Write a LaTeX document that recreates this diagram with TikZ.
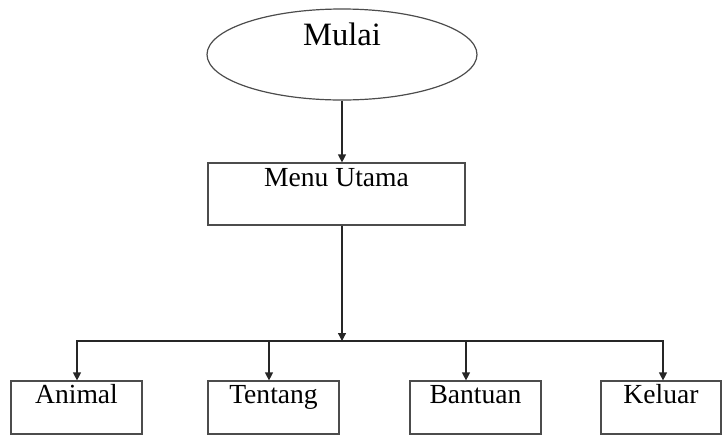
\documentclass[tikz,border=0pt]{standalone}
\usepackage{fontspec}
\setmainfont{Liberation Serif}
\usetikzlibrary{arrows.meta, calc, shapes.geometric}

\begin{document}
\begin{tikzpicture}[x=0.5pt, y=-0.5pt, >={Triangle[length=4pt,width=4pt]}]
    \tikzstyle{conn}=[draw=black!85, line width=0.6pt]
    \tikzstyle{start}=[ellipse, draw=black!70, line width=0.6pt, inner sep=0pt,
        minimum width=135pt, minimum height=45.5pt, text height=11pt, text depth=20pt,
        font=\fontsize{16.3}{18}\selectfont]
    \tikzstyle{menubox}=[rectangle, draw=black!70, line width=0.6pt, inner sep=0pt,
        font=\fontsize{13.8}{16}\selectfont]

    \useasboundingbox (0,0) rectangle (723,435);

    % Draw the start and the main menu
    \node[start] (mulai) at (342,54.5) {Mulai};
    \node[menubox, minimum width=128.5pt, minimum height=31pt,
          text height=11.5pt, text depth=19.5pt] (menu) at (336.5,194) {Menu Utama};
    \coordinate (bus) at (342,341);

    % Draw the menu items
    \foreach \name / \x / \w / \lbl in {animal/76.5/65.5/Animal, tentang/273.5/65.5/Tentang,
                                       bantuan/475.5/65.5/Bantuan, keluar/661/60/Keluar}
        \node[menubox, minimum width=\w pt, minimum height=26.5pt,
              text height=11pt, text depth=15.5pt] (\name) at (\x,407.5) {\lbl};

    % Connect the start with the main menu
    \draw[conn,->] (mulai.south) -- (mulai.south |- menu.north);
    \draw[conn,->] (mulai.south |- menu.south) -- (bus);

    % Connect the bus with every menu item
    \foreach \name / \dx in {animal/0.5, tentang/-4.5, bantuan/-9.5, keluar/2}
        \draw[conn,->] (bus) -| ($(\name.north)+(\dx,0)$);
\end{tikzpicture}
\end{document}
